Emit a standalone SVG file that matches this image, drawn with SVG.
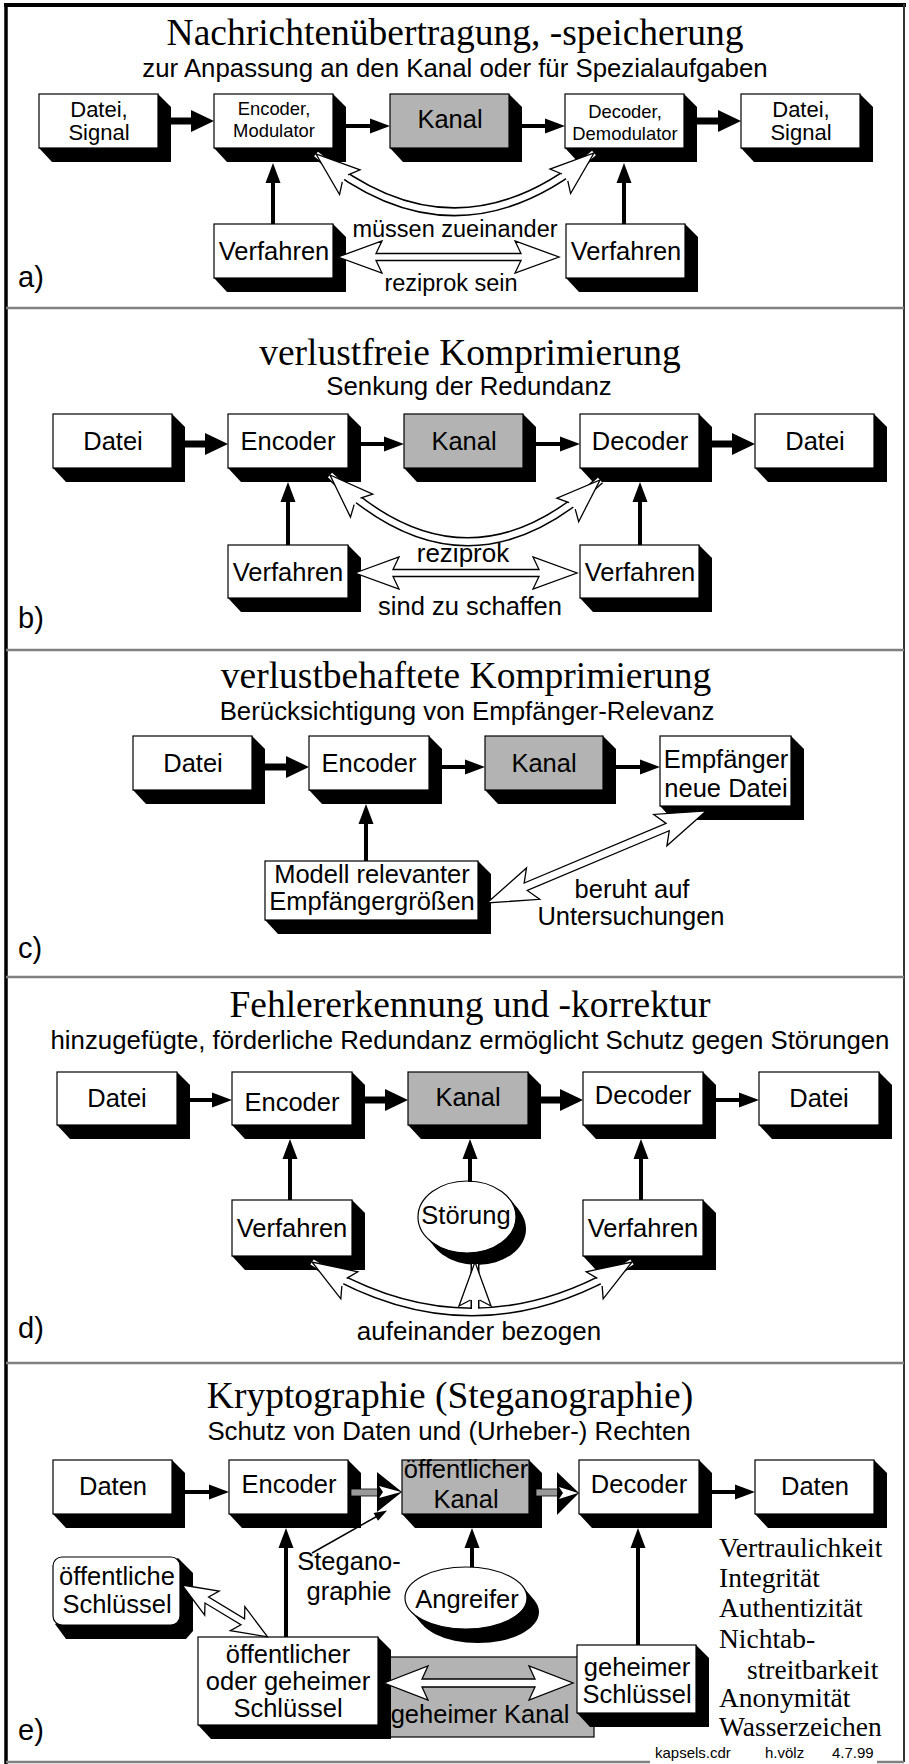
<svg xmlns="http://www.w3.org/2000/svg" width="909" height="1764" viewBox="0 0 909 1764">
<style>
.bx{fill:#fff;stroke:#000;stroke-width:1.2}
.gr{fill:#b3b3b3;stroke:#000;stroke-width:1.2}
.sh{fill:#000}
.t{font-family:"Liberation Sans",Arial,sans-serif;font-size:25.5px;text-anchor:middle;fill:#000}
.s18{font-size:18.4px}
.s22{font-size:22px}
.s23{font-size:23.5px}
.st{font-family:"Liberation Sans",Arial,sans-serif;font-size:25.8px;text-anchor:middle;fill:#000}
.ti{font-family:"Liberation Serif","Times New Roman",serif;font-size:37.5px;text-anchor:middle;fill:#000}
.rl{font-family:"Liberation Serif","Times New Roman",serif;font-size:27.5px;fill:#000}
.lab{font-family:"Liberation Sans",Arial,sans-serif;font-size:29px;fill:#000}
.ft{font-family:"Liberation Sans",Arial,sans-serif;font-size:15px;fill:#000}
.thick{stroke:#000;stroke-width:7;fill:none}
.thin{stroke:#000;stroke-width:4;fill:none}
.hol{fill:#fff;stroke:#000;stroke-width:1.3;stroke-linejoin:miter}
.hf{fill:#fff;stroke:none}
.ho{fill:none;stroke:#000;stroke-width:1.3}
.tb{fill:none;stroke:#000;stroke-width:9}
.tw{fill:none;stroke:#fff;stroke-width:6}
.sep{stroke:#808080;stroke-width:2.5}
</style>
<defs>
<marker id="hk" markerUnits="userSpaceOnUse" markerWidth="24" markerHeight="24" viewBox="0 -12 23 24" refX="11" refY="0" orient="auto"><path d="M0,-11 L23,0 L0,11 z" fill="#000"/></marker>
<marker id="hn" markerUnits="userSpaceOnUse" markerWidth="21" markerHeight="16" viewBox="0 -8 20 16" refX="10" refY="0" orient="auto"><path d="M0,-7.5 L20,0 L0,7.5 z" fill="#000"/></marker>
<marker id="hs" markerUnits="userSpaceOnUse" markerWidth="14" markerHeight="10" viewBox="0 -5 13 10" refX="6" refY="0" orient="auto"><path d="M0,-4.5 L13,0 L0,4.5 z" fill="#000"/></marker>
<g id="chead"><path class="hf" d="M0,0 L44,-16 L38,-4.5 L38,4.5 L44,16 z"/><path class="ho" d="M38,-4.5 L44,-16 L0,0 L44,16 L38,4.5"/></g>
</defs>

<rect x="0" y="0" width="909" height="1764" fill="#fff"/>
<!-- frame -->
<line x1="4" y1="5" x2="906" y2="5" stroke="#000" stroke-width="4"/>
<line x1="6" y1="4" x2="6" y2="1764" stroke="#000" stroke-width="3.5"/>
<line x1="904" y1="4" x2="904" y2="1762" stroke="#333" stroke-width="2"/>
<line class="sep" x1="6" y1="308" x2="904" y2="308"/>
<line class="sep" x1="6" y1="650" x2="904" y2="650"/>
<line class="sep" x1="6" y1="977" x2="904" y2="977"/>
<line class="sep" x1="6" y1="1363" x2="904" y2="1363"/>
<line class="sep" x1="6" y1="1762" x2="650" y2="1762"/>
<line class="sep" x1="877" y1="1762" x2="904" y2="1762"/>
<text class="ft" x="655" y="1758">kapsels.cdr</text>
<text class="ft" x="765" y="1758">h.völz</text>
<text class="ft" x="832" y="1758">4.7.99</text>

<!-- ===== a) ===== -->
<text class="ti" x="455" y="45">Nachrichtenübertragung, -speicherung</text>
<text class="st" x="455" y="77">zur Anpassung an den Kanal oder für Spezialaufgaben</text>
<text class="lab" x="18" y="287">a)</text>
<g id="a-datei1"><polygon class="sh" points="158,94 171,107 171,162 52,162 39,148"/><rect class="bx" x="39" y="94" width="119" height="54"/><text class="t s22" x="99" y="117">Datei,</text><text class="t s22" x="99" y="140">Signal</text></g>
<g id="a-encoder"><polygon class="sh" points="333,94 346,107 346,162 227,162 214,148"/><rect class="bx" x="214" y="94" width="119" height="54"/><text class="t s18" x="274" y="115">Encoder,</text><text class="t s18" x="274" y="137">Modulator</text></g>
<g id="a-kanal"><polygon class="sh" points="509,94 522,107 522,162 403,162 390,148"/><rect class="gr" x="390" y="94" width="119" height="54"/><text class="t" x="450" y="128">Kanal</text></g>
<g id="a-decoder"><polygon class="sh" points="684,94 697,107 697,162 578,162 565,148"/><rect class="bx" x="565" y="94" width="119" height="54"/><text class="t s18" x="625" y="118">Decoder,</text><text class="t s18" x="625" y="140">Demodulator</text></g>
<g id="a-datei2"><polygon class="sh" points="860,94 873,107 873,162 754,162 741,148"/><rect class="bx" x="741" y="94" width="119" height="54"/><text class="t s22" x="801" y="117">Datei,</text><text class="t s22" x="801" y="140">Signal</text></g>
<g id="a-verf1"><polygon class="sh" points="333,224 346,237 346,292 227,292 214,278"/><rect class="bx" x="214" y="224" width="119" height="54"/><text class="t" x="274" y="260">Verfahren</text></g>
<g id="a-verf2"><polygon class="sh" points="685,224 698,237 698,292 579,292 566,278"/><rect class="bx" x="566" y="224" width="119" height="54"/><text class="t" x="626" y="260">Verfahren</text></g>
<text class="t s23" x="455" y="237">müssen zueinander</text>
<text class="t s23" x="451" y="291">reziprok sein</text>

<!-- ===== b) ===== -->
<text class="ti" x="470" y="365">verlustfreie Komprimierung</text>
<text class="st" x="469" y="395">Senkung der Redundanz</text>
<text class="lab" x="18" y="628">b)</text>
<g id="b-datei1"><polygon class="sh" points="172,414 185,427 185,482 66,482 53,468"/><rect class="bx" x="53" y="414" width="119" height="54"/><text class="t" x="113" y="450">Datei</text></g>
<g id="b-encoder"><polygon class="sh" points="348,414 361,427 361,482 241,482 228,468"/><rect class="bx" x="228" y="414" width="120" height="54"/><text class="t" x="288" y="450">Encoder</text></g>
<g id="b-kanal"><polygon class="sh" points="523,414 536,427 536,482 417,482 404,468"/><rect class="gr" x="404" y="414" width="119" height="54"/><text class="t" x="464" y="450">Kanal</text></g>
<g id="b-decoder"><polygon class="sh" points="699,414 712,427 712,482 593,482 580,468"/><rect class="bx" x="580" y="414" width="119" height="54"/><text class="t" x="640" y="450">Decoder</text></g>
<g id="b-datei2"><polygon class="sh" points="874,414 887,427 887,482 768,482 755,468"/><rect class="bx" x="755" y="414" width="119" height="54"/><text class="t" x="815" y="450">Datei</text></g>
<g id="b-verf1"><polygon class="sh" points="348,545 361,558 361,612 241,612 228,598"/><rect class="bx" x="228" y="545" width="120" height="53"/><text class="t" x="288" y="581">Verfahren</text></g>
<g id="b-verf2"><polygon class="sh" points="699,545 712,558 712,612 593,612 580,598"/><rect class="bx" x="580" y="545" width="119" height="53"/><text class="t" x="640" y="581">Verfahren</text></g>
<text class="t" x="463" y="562" style="font-size:26px">reziprok</text>
<text class="t" x="470" y="615">sind zu schaffen</text>

<!-- ===== c) ===== -->
<text class="ti" x="466" y="688">verlustbehaftete Komprimierung</text>
<text class="st" x="467" y="720">Berücksichtigung von Empfänger-Relevanz</text>
<text class="lab" x="18" y="958">c)</text>
<g id="c-datei"><polygon class="sh" points="252,736 265,749 265,804 146,804 133,790"/><rect class="bx" x="133" y="736" width="119" height="54"/><text class="t" x="193" y="772">Datei</text></g>
<g id="c-encoder"><polygon class="sh" points="429,736 442,749 442,804 322,804 309,790"/><rect class="bx" x="309" y="736" width="120" height="54"/><text class="t" x="369" y="772">Encoder</text></g>
<g id="c-kanal"><polygon class="sh" points="603,736 616,749 616,804 498,804 485,790"/><rect class="gr" x="485" y="736" width="118" height="54"/><text class="t" x="544" y="772">Kanal</text></g>
<g id="c-empf"><polygon class="sh" points="791,736 804,749 804,820 673,820 660,806"/><rect class="bx" x="660" y="736" width="131" height="70"/><text class="t" x="726" y="768">Empfänger</text><text class="t" x="726" y="797">neue Datei</text></g>
<g id="c-modell"><polygon class="sh" points="478,861 491,874 491,934 278,934 265,920"/><rect class="bx" x="265" y="861" width="213" height="59"/><text class="t" x="372" y="883">Modell relevanter</text><text class="t" x="372" y="910">Empfängergrößen</text></g>
<text class="t" x="632" y="898">beruht auf</text>
<text class="t" x="631" y="925">Untersuchungen</text>

<!-- ===== d) ===== -->
<text class="ti" x="470" y="1017">Fehlererkennung und -korrektur</text>
<text class="st" x="470" y="1049">hinzugefügte, förderliche Redundanz ermöglicht Schutz gegen Störungen</text>
<text class="lab" x="18" y="1338">d)</text>
<g id="d-datei1"><polygon class="sh" points="177,1072 190,1085 190,1139 70,1139 57,1125"/><rect class="bx" x="57" y="1072" width="120" height="53"/><text class="t" x="117" y="1107">Datei</text></g>
<g id="d-encoder"><polygon class="sh" points="352,1072 365,1085 365,1139 245,1139 232,1125"/><rect class="bx" x="232" y="1072" width="120" height="53"/><text class="t" x="292" y="1111">Encoder</text></g>
<g id="d-kanal"><polygon class="sh" points="528,1072 541,1085 541,1139 421,1139 408,1125"/><rect class="gr" x="408" y="1072" width="120" height="53"/><text class="t" x="468" y="1106">Kanal</text></g>
<g id="d-decoder"><polygon class="sh" points="703,1072 716,1085 716,1139 596,1139 583,1125"/><rect class="bx" x="583" y="1072" width="120" height="53"/><text class="t" x="643" y="1104">Decoder</text></g>
<g id="d-datei2"><polygon class="sh" points="879,1072 892,1085 892,1139 772,1139 759,1125"/><rect class="bx" x="759" y="1072" width="120" height="53"/><text class="t" x="819" y="1107">Datei</text></g>
<g id="d-verf1"><polygon class="sh" points="352,1200 365,1213 365,1270 245,1270 232,1256"/><rect class="bx" x="232" y="1200" width="120" height="56"/><text class="t" x="292" y="1237">Verfahren</text></g>
<g id="d-verf2"><polygon class="sh" points="703,1200 716,1213 716,1270 596,1270 583,1256"/><rect class="bx" x="583" y="1200" width="120" height="56"/><text class="t" x="643" y="1237">Verfahren</text></g>
<g id="d-stoerung"><g class="sh"><ellipse cx="470" cy="1220" rx="49" ry="36"/><ellipse cx="472" cy="1223" rx="49" ry="36"/><ellipse cx="475" cy="1226" rx="49" ry="36"/><ellipse cx="477" cy="1229" rx="49" ry="36"/></g><ellipse class="bx" cx="467" cy="1217" rx="49" ry="36"/><text class="t" x="466" y="1224">Störung</text></g>
<text class="t" x="479" y="1340" style="font-size:26px">aufeinander bezogen</text>

<!-- ===== e) ===== -->
<text class="ti" x="450" y="1408">Kryptographie (Steganographie)</text>
<text class="st" x="449" y="1440">Schutz von Daten und (Urheber-) Rechten</text>
<text class="lab" x="18" y="1740">e)</text>
<g id="e-gkanal"><rect class="gr" x="380" y="1657" width="214" height="80"/><text class="t" x="480" y="1723">geheimer Kanal</text></g>
<g id="e-daten1"><polygon class="sh" points="172,1460 185,1473 185,1528 66,1528 53,1514"/><rect class="bx" x="53" y="1460" width="119" height="54"/><text class="t" x="113" y="1495">Daten</text></g>
<g id="e-encoder"><polygon class="sh" points="348,1460 361,1473 361,1528 242,1528 229,1514"/><rect class="bx" x="229" y="1460" width="119" height="54"/><text class="t" x="289" y="1493">Encoder</text></g>
<g id="e-okanal"><polygon class="sh" points="529,1460 542,1473 542,1528 415,1528 402,1514"/><rect class="gr" x="402" y="1460" width="127" height="54"/><text class="t" x="466" y="1478">öffentlicher</text><text class="t" x="466" y="1508">Kanal</text></g>
<g id="e-decoder"><polygon class="sh" points="699,1460 712,1473 712,1528 592,1528 579,1514"/><rect class="bx" x="579" y="1460" width="120" height="54"/><text class="t" x="639" y="1493">Decoder</text></g>
<g id="e-daten2"><polygon class="sh" points="874,1460 887,1473 887,1528 768,1528 755,1514"/><rect class="bx" x="755" y="1460" width="119" height="54"/><text class="t" x="815" y="1495">Daten</text></g>
<g id="e-oschl"><polygon class="sh" points="178,1558 193,1573 193,1631 186,1639 66,1639 55,1624"/><rect class="bx" x="53" y="1557" width="127" height="68" rx="9"/><text class="t" x="117" y="1585">öffentliche</text><text class="t" x="117" y="1613">Schlüssel</text></g>
<g id="e-ogschl"><polygon class="sh" points="378,1637 391,1650 391,1739 211,1739 198,1725"/><rect class="bx" x="198" y="1637" width="180" height="88"/><text class="t" x="288" y="1663">öffentlicher</text><text class="t" x="288" y="1690">oder geheimer</text><text class="t" x="288" y="1717">Schlüssel</text></g>
<g id="e-gschl"><polygon class="sh" points="696,1645 709,1658 709,1727 590,1727 577,1713"/><rect class="bx" x="577" y="1645" width="119" height="68"/><text class="t" x="637" y="1676">geheimer</text><text class="t" x="637" y="1703">Schlüssel</text></g>
<g id="e-angreifer"><g class="sh"><ellipse cx="469" cy="1601.5" rx="61" ry="31"/><ellipse cx="472" cy="1605" rx="61" ry="31"/><ellipse cx="475" cy="1608.5" rx="61" ry="31"/><ellipse cx="478" cy="1612" rx="61" ry="31"/></g><ellipse class="bx" cx="466" cy="1598" rx="61" ry="31"/><text class="t" x="467" y="1608">Angreifer</text></g>
<text class="t" x="349" y="1570">Stegano-</text>
<text class="t" x="349" y="1600">graphie</text>
<g id="e-props">
<text class="rl" x="719" y="1557">Vertraulichkeit</text>
<text class="rl" x="719" y="1587">Integrität</text>
<text class="rl" x="719" y="1617">Authentizität</text>
<text class="rl" x="719" y="1648">Nichtab-</text>
<text class="rl" x="747" y="1679">streitbarkeit</text>
<text class="rl" x="719" y="1707">Anonymität</text>
<text class="rl" x="719" y="1736">Wasserzeichen</text>
</g>

<!-- ===== connectors ===== -->
<g id="connectors">
<!-- a -->
<line class="thick" x1="171" y1="121" x2="202" y2="121" marker-end="url(#hk)"/>
<line class="thin" x1="346" y1="126" x2="380" y2="126" marker-end="url(#hn)"/>
<line class="thin" x1="522" y1="126" x2="555" y2="126" marker-end="url(#hn)"/>
<line class="thick" x1="697" y1="121" x2="729" y2="121" marker-end="url(#hk)"/>
<line class="thin" x1="273" y1="224" x2="273" y2="173" marker-end="url(#hn)"/>
<line class="thin" x1="624" y1="224" x2="624" y2="173" marker-end="url(#hn)"/>
<polygon class="hol" transform="translate(338,257)" points="0,0 44,-16 38,-3.5 183,-3.5 177,-16 221,0 177,16 183,3.5 38,3.5 44,16"/>
<path class="tb" d="M316,154 Q455,270 594,153"/>
<path class="tw" d="M316,154 Q455,270 594,153"/>
<use href="#chead" transform="translate(316,154) rotate(39.8)"/>
<use href="#chead" transform="translate(594,153) rotate(140)"/>
<!-- b -->
<line class="thick" x1="185" y1="444" x2="216" y2="444" marker-end="url(#hk)"/>
<line class="thin" x1="361" y1="444" x2="394" y2="444" marker-end="url(#hn)"/>
<line class="thin" x1="536" y1="444" x2="570" y2="444" marker-end="url(#hn)"/>
<line class="thick" x1="712" y1="444" x2="743" y2="444" marker-end="url(#hk)"/>
<line class="thin" x1="288" y1="545" x2="288" y2="492" marker-end="url(#hn)"/>
<line class="thin" x1="640" y1="545" x2="640" y2="492" marker-end="url(#hn)"/>
<polygon class="hol" transform="translate(355,573)" points="0,0 44,-16 38,-3.5 184,-3.5 178,-16 222,0 178,16 184,3.5 38,3.5 44,16"/>
<path class="tb" d="M330,475 Q465,606 600,480"/>
<path class="tw" d="M330,475 Q465,606 600,480"/>
<use href="#chead" transform="translate(330,475) rotate(44.1)"/>
<use href="#chead" transform="translate(600,480) rotate(137.1)"/>
<!-- c -->
<line class="thick" x1="265" y1="767" x2="297" y2="767" marker-end="url(#hk)"/>
<line class="thin" x1="442" y1="767" x2="475" y2="767" marker-end="url(#hn)"/>
<line class="thin" x1="616" y1="767" x2="650" y2="767" marker-end="url(#hn)"/>
<line class="thin" x1="366" y1="861" x2="366" y2="814" marker-end="url(#hn)"/>
<polygon class="hol" transform="translate(487,903) rotate(-22.8)" points="0,0 50,-17 42,-4 196,-4 188,-17 238,0 188,17 196,4 42,4 50,17"/>
<!-- d -->
<line class="thin" x1="190" y1="1100" x2="222" y2="1100" marker-end="url(#hn)"/>
<line class="thick" x1="365" y1="1100" x2="396" y2="1100" marker-end="url(#hk)"/>
<line class="thick" x1="541" y1="1100" x2="571" y2="1100" marker-end="url(#hk)"/>
<line class="thin" x1="716" y1="1100" x2="749" y2="1100" marker-end="url(#hn)"/>
<line class="thin" x1="290" y1="1200" x2="290" y2="1149" marker-end="url(#hn)"/>
<line class="thin" x1="470" y1="1182" x2="470" y2="1149" marker-end="url(#hn)"/>
<line class="thin" x1="641" y1="1200" x2="641" y2="1149" marker-end="url(#hn)"/>
<path class="tb" d="M312,1262 Q472,1362 632,1262 M475,1312 L475,1264"/>
<path class="tw" d="M312,1262 Q472,1362 632,1262 M475,1311 L475,1264"/>
<use href="#chead" transform="translate(312,1262) rotate(32)"/>
<use href="#chead" transform="translate(632,1262) rotate(148)"/>
<use href="#chead" transform="translate(475,1262) rotate(90)"/>
<!-- e -->
<line class="thin" x1="185" y1="1492" x2="219" y2="1492" marker-end="url(#hn)"/>
<line class="thin" x1="712" y1="1492" x2="745" y2="1492" marker-end="url(#hn)"/>
<rect x="351" y="1489" width="27" height="7" fill="#999" stroke="#000" stroke-width="0.8"/>
<polygon points="377,1472 402,1492 377,1512" fill="#000"/>
<polygon points="379,1486 401,1492 379,1498 383,1492" fill="#fff"/>
<rect x="536" y="1489" width="22" height="7" fill="#999" stroke="#000" stroke-width="0.8"/>
<polygon points="557,1472 579,1493 557,1515" fill="#000"/>
<polygon points="559,1487 578,1493 559,1499 563,1493" fill="#fff"/>
<line class="thin" x1="286" y1="1637" x2="286" y2="1538" marker-end="url(#hn)"/>
<line class="thin" x1="472" y1="1567" x2="472" y2="1538" marker-end="url(#hn)"/>
<line class="thin" x1="638" y1="1645" x2="638" y2="1538" marker-end="url(#hn)"/>
<line x1="312" y1="1553" x2="381" y2="1514" stroke="#000" stroke-width="1.5" marker-end="url(#hs)"/>
<polygon class="hol" transform="translate(182,1585) rotate(31.2)" points="0,0 35,-14 29,-3.5 71,-3.5 65,-14 100,0 65,14 71,3.5 29,3.5 35,14"/>
<polygon class="hol" transform="translate(384,1683)" points="0,0 44,-17 38,-4 151,-4 145,-17 189,0 145,17 151,4 38,4 44,17"/>
</g>
</svg>
